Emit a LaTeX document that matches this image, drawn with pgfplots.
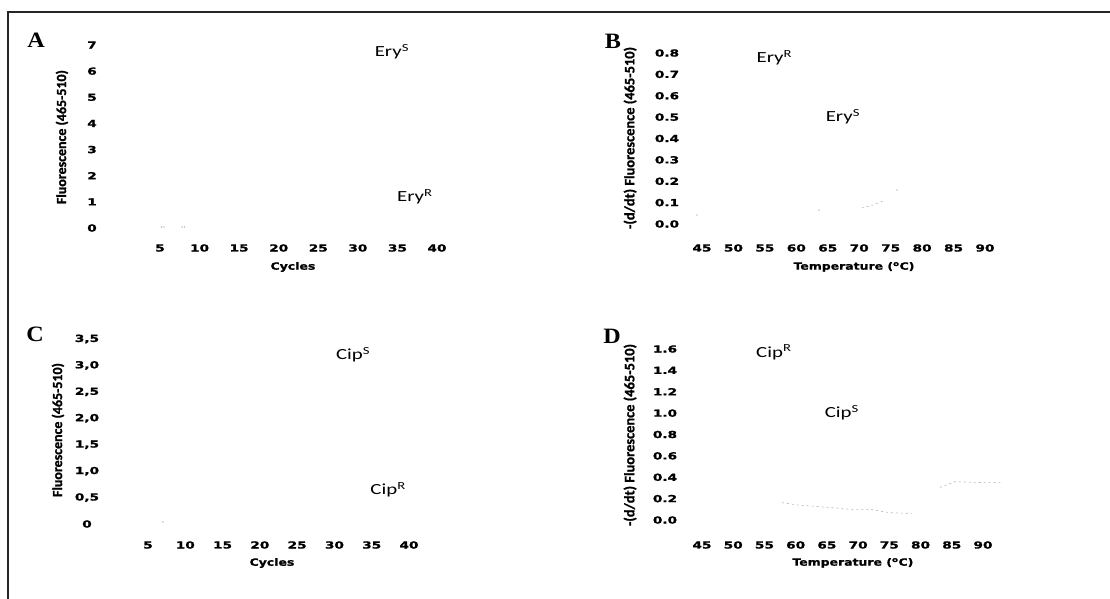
\documentclass[border=0pt]{standalone}
\usepackage{pgfplots}
\pgfplotsset{compat=1.18}
\usepackage{fontspec}
\setmainfont{Carlito}
\newfontfamily\tickfont[FakeStretch=1.4, BoldFeatures={FakeBold=1.3}]{DejaVu Sans}
\newfontfamily\labfont[FakeStretch=1.25, BoldFeatures={FakeBold=1.3}]{DejaVu Sans}
\newfontfamily\ylabfont[BoldFeatures={FakeBold=1.2}]{Carlito}
\newfontfamily\anfont[FakeStretch=1.35]{Carlito}
\newfontfamily\letfont[FakeStretch=1.1]{Liberation Serif}
\newcommand\annfont{\anfont\fontsize{15.5}{17}\selectfont}
\newcommand\letterfont{\letfont\bfseries\fontsize{22}{24}\selectfont}

\pgfplotsset{
  panel/.style={
    scale only axis, anchor=south west, clip=false, enlargelimits=false,
    axis lines*=left, axis line style={draw=none},
    major tick length=0pt, tick style={draw=none},
    tick label style={font=\tickfont\bfseries\fontsize{9.8}{11}\selectfont, anchor=center, inner sep=0pt},
    xlabel style={font=\labfont\bfseries\fontsize{10}{12}\selectfont, anchor=center},
    ylabel style={font=\ylabfont\bfseries\fontsize{14}{16}\selectfont, anchor=center},
  },
  faint/.style={gray!60, line width=0.6pt, dash pattern=on 2pt off 3pt},
  dots/.style={only marks, mark=*, mark size=0.45pt, gray!60},
}

\begin{document}
\begin{tikzpicture}
\useasboundingbox (0,0) rectangle (1110bp,599bp);

% ---------------- Panel A ----------------
\begin{axis}[panel, at={(160bp,371bp)}, width=277bp, height=183bp,
  xmin=5, xmax=40, ymin=0, ymax=7,
  xtick={5,10,15,20,25,30,35,40}, xticklabels={5,10,15,20,25,30,35,40},
  ytick={0,1,2,3,4,5,6,7}, yticklabels={0,1,2,3,4,5,6,7},
  xticklabel style={yshift=-20bp}, yticklabel style={xshift=-68bp},
  xlabel={Cycles}, ylabel={Fluorescence (465-510)},
  xlabel style={at={(axis description cs:0.480,-0.213)}},
  ylabel style={at={(axis description cs:-0.354,0.497)}}]
\addplot[dots] coordinates {(5.2,0.04)(5.5,0.04)(7.8,0.04)(8.1,0.04)};
\node[font=\annfont] at (axis cs:34.3,6.73) {Ery\textsuperscript{S}};
\node[font=\annfont] at (axis cs:37.2,1.19) {Ery\textsuperscript{R}};
\end{axis}

% ---------------- Panel B ----------------
\begin{axis}[panel, at={(702bp,375bp)}, width=283bp, height=171bp,
  xmin=45, xmax=90, ymin=0, ymax=0.8,
  xtick={45,50,55,60,65,70,75,80,85,90}, xticklabels={45,50,55,60,65,70,75,80,85,90},
  ytick={0,0.1,0.2,0.3,0.4,0.5,0.6,0.7,0.8}, yticklabels={0.0,0.1,0.2,0.3,0.4,0.5,0.6,0.7,0.8},
  xticklabel style={yshift=-24bp}, yticklabel style={xshift=-35bp},
  xlabel={Temperature (\textsuperscript{o}C)}, ylabel={-(d/dt) Fluorescence (465-510)},
  xlabel style={at={(axis description cs:0.537,-0.251)}},
  ylabel style={at={(axis description cs:-0.254,0.503)}, font=\ylabfont\bfseries\fontsize{14.5}{16}\selectfont}]
\addplot[dots] coordinates {(44.2,0.042)(63.6,0.065)(76.0,0.159)};
\addplot[faint] coordinates {(70.4,0.075)(72.2,0.089)(73.8,0.108)};
\node[font=\annfont] at (axis cs:56.5,0.779) {Ery\textsuperscript{R}};
\node[font=\annfont] at (axis cs:67.4,0.50) {Ery\textsuperscript{S}};
\end{axis}

% ---------------- Panel C ----------------
\begin{axis}[panel, at={(148bp,75bp)}, width=261bp, height=185bp,
  xmin=5, xmax=40, ymin=0, ymax=3.5,
  xtick={5,10,15,20,25,30,35,40}, xticklabels={5,10,15,20,25,30,35,40},
  ytick={0,0.5,1,1.5,2,2.5,3,3.5}, yticklabels={0,{0,5},{1,0},{1,5},{2,0},{2,5},{3,0},{3,5}},
  xticklabel style={yshift=-21bp}, yticklabel style={xshift=-61bp},
  xlabel={Cycles}, ylabel={Fluorescence (465-510)},
  xlabel style={at={(axis description cs:0.475,-0.211)}},
  ylabel style={at={(axis description cs:-0.345,0.508)}}]
\addplot[dots] coordinates {(7.0,0.04)};
\node[font=\annfont] at (axis cs:32.5,3.20) {Cip\textsuperscript{S}};
\node[font=\annfont] at (axis cs:37.2,0.643) {Cip\textsuperscript{R}};
\end{axis}

% ---------------- Panel D ----------------
\begin{axis}[panel, at={(702bp,79bp)}, width=281bp, height=171bp,
  xmin=45, xmax=90, ymin=0, ymax=1.6,
  xtick={45,50,55,60,65,70,75,80,85,90}, xticklabels={45,50,55,60,65,70,75,80,85,90},
  ytick={0,0.2,0.4,0.6,0.8,1.0,1.2,1.4,1.6}, yticklabels={0.0,0.2,0.4,0.6,0.8,1.0,1.2,1.4,1.6},
  xticklabel style={yshift=-25bp}, yticklabel style={xshift=-37bp},
  xlabel={Temperature (\textsuperscript{o}C)}, ylabel={-(d/dt) Fluorescence (465-510)},
  xlabel style={at={(axis description cs:0.537,-0.251)}},
  ylabel style={at={(axis description cs:-0.256,0.497)}, font=\ylabfont\bfseries\fontsize{14.5}{16}\selectfont}]
\addplot[faint] coordinates {(57.8,0.162)(60.4,0.14)(65.0,0.119)(68.7,0.10)(71.9,0.10)(75.1,0.068)(78.6,0.062)};
\addplot[faint] coordinates {(83.1,0.305)(85.5,0.358)(90.1,0.35)(92.8,0.35)};
\node[font=\annfont] at (axis cs:56.5,1.57) {Cip\textsuperscript{R}};
\node[font=\annfont] at (axis cs:67.4,1.0) {Cip\textsuperscript{S}};
\end{axis}

% panel letters and frame
\node[font=\letterfont] at (36bp,559bp) {A};
\node[font=\letterfont] at (613bp,558bp) {B};
\node[font=\letterfont] at (35bp,265bp) {C};
\node[font=\letterfont] at (612bp,263bp) {D};
\draw[line width=1.4bp, black!85] (8bp,0bp) -- (8bp,587bp) -- (1110bp,587bp);
\end{tikzpicture}
\end{document}
